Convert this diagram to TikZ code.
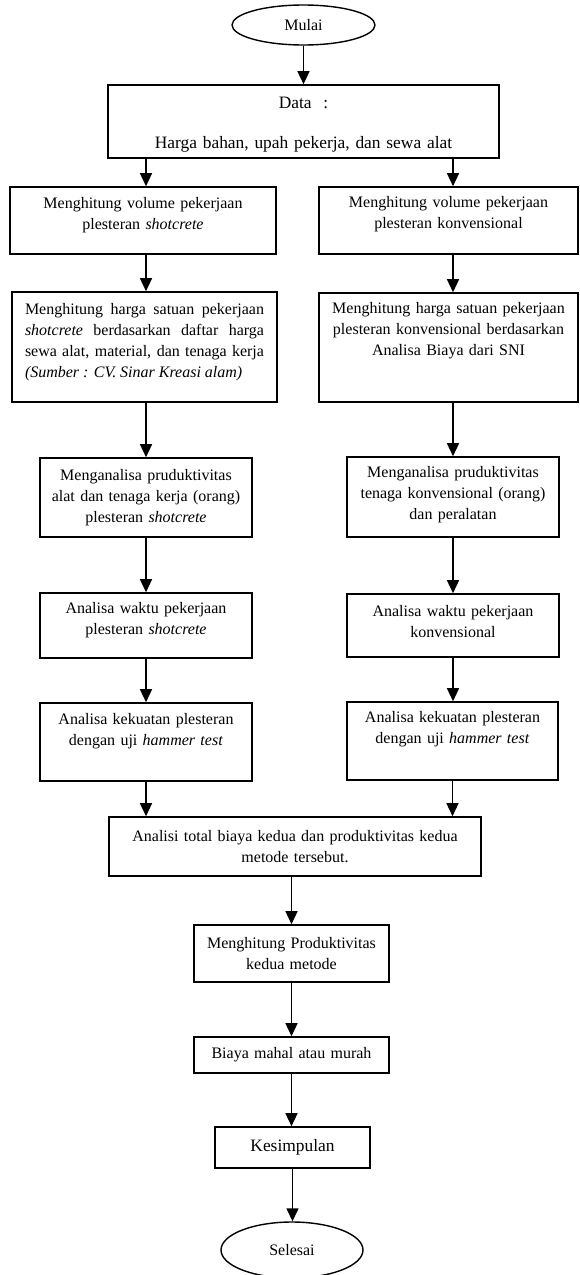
\documentclass[tikz,border=0pt]{standalone}
\usepackage{fontspec}
\setmainfont{Liberation Serif}
\usetikzlibrary{shapes.geometric, arrows.meta, positioning}

\begin{document}
\begin{tikzpicture}[x=1pt, y=-1pt, >={Triangle[width=12pt,length=13pt]}]
    \tikzstyle{terminal} = [ellipse, draw=black, line width=1.4pt, inner sep=0pt, font=\fontsize{16}{21}\selectfont]
    \tikzstyle{proses} = [rectangle, draw=black, line width=1.6pt, align=center, inner sep=2pt, font=\fontsize{16}{21}\selectfont]
    \tikzstyle{besar} = [font=\fontsize{17.4}{22}\selectfont]
    \tikzstyle{alur} = [->, line width=1.4pt]

    \useasboundingbox (0,0) rectangle (579,1275);

    % Awal dan data masukan
    \node [terminal, minimum width=143pt, minimum height=40pt] (mulai) at (303.5,25) {Mulai};
    \node [proses, besar, below of=mulai, node distance=96.5pt, minimum width=391pt, minimum height=73pt, text width=370pt, text height=17pt] (data) {Data \ :\\[18pt]Harga bahan, upah pekerja, dan sewa alat};

    % Kolom kiri: shotcrete
    \node [proses, below of=data, node distance=99pt, xshift=-160.5pt, minimum width=266pt, minimum height=67pt, text width=250pt, text height=11pt, text depth=34.6pt] (vol1) {Menghitung volume pekerjaan\\plesteran \textit{shotcrete}};
    \node [proses, below of=vol1, node distance=126.5pt, xshift=1.5pt, minimum width=265pt, minimum height=110pt, text width=239pt, align=justify, text height=11pt, text depth=76.6pt] (harga1) {Menghitung harga satuan pekerjaan\linebreak \textit{shotcrete} berdasarkan daftar harga\linebreak sewa alat, material, dan tenaga kerja\linebreak \textit{(Sumber : CV. Sinar Kreasi alam)}};
    \node [proses, below of=harga1, node distance=150.5pt, xshift=1.5pt, minimum width=212pt, minimum height=79pt, text width=205pt] (prod1) {Menganalisa pruduktivitas\\alat dan tenaga kerja (orang)\\plesteran \textit{shotcrete}};
    \node [proses, below of=prod1, node distance=128pt, minimum width=212pt, minimum height=65pt, text width=205pt, text height=11pt, text depth=34.6pt] (waktu1) {Analisa waktu pekerjaan\\plesteran \textit{shotcrete}};
    \node [proses, below of=waktu1, node distance=116.5pt, minimum width=212pt, minimum height=78pt, text width=205pt, text height=11pt, text depth=46.6pt] (uji1) {Analisa kekuatan plesteran\\dengan uji \textit{hammer test}};

    % Kolom kanan: konvensional
    \node [proses, below of=data, node distance=99pt, xshift=145pt, minimum width=259pt, minimum height=67pt, text width=245pt, text height=11pt, text depth=36.6pt] (vol2) {Menghitung volume pekerjaan\\plesteran konvensional};
    \node [proses, below of=vol2, node distance=127pt, minimum width=259pt, minimum height=109pt, text width=245pt, text height=11pt, text depth=79.6pt] (harga2) {Menghitung harga satuan pekerjaan\\plesteran konvensional berdasarkan\\Analisa Biaya dari SNI};
    \node [proses, below of=harga2, node distance=149.5pt, xshift=4.5pt, minimum width=212pt, minimum height=80pt, text width=205pt, text height=11pt, text depth=49.6pt] (prod2) {Menganalisa pruduktivitas\\tenaga konvensional (orang)\\dan peralatan};
    \node [proses, below of=prod2, node distance=128.5pt, minimum width=212pt, minimum height=63pt, text width=205pt, text height=11pt, text depth=29pt] (waktu2) {Analisa waktu pekerjaan\\konvensional};
    \node [proses, below of=waktu2, node distance=115.5pt, xshift=-0.5pt, minimum width=211pt, minimum height=78pt, text width=205pt, text height=11pt, text depth=48.6pt] (uji2) {Analisa kekuatan plesteran\\dengan uji \textit{hammer test}};

    % Gabungan dan akhir
    \node [proses, below of=uji1, node distance=104.5pt, xshift=149pt, minimum width=372pt, minimum height=59pt, text width=360pt] (total) {Analisi total biaya kedua dan produktivitas kedua\\metode tersebut.};
    \node [proses, below of=total, node distance=107pt, xshift=-3.5pt, minimum width=195pt, minimum height=57pt, text width=190pt] (produktif) {Menghitung Produktivitas\\kedua metode};
    \node [proses, below of=produktif, node distance=101.5pt, minimum width=195pt, minimum height=36pt, text width=190pt] (biaya) {Biaya mahal atau murah};
    \node [proses, besar, below of=biaya, node distance=92.5pt, xshift=1pt, minimum width=155pt, minimum height=41pt, text width=150pt] (simpul) {Kesimpulan};
    \node [terminal, below of=simpul, node distance=102.5pt, xshift=-0.5pt, minimum width=142pt, minimum height=56pt] (selesai) {Selesai};

    % Panah
    \draw [alur] (mulai.south) -- (data.north);
    \draw [alur] (data.south -| prod1.north) -- (vol1.north -| prod1.north);
    \draw [alur] (data.south -| prod2.north) -- (vol2.north -| prod2.north);
    \draw [alur] (vol1.south -| prod1.north) -- (harga1.north -| prod1.north);
    \draw [alur] (harga1.south -| prod1.north) -- (prod1.north);
    \draw [alur] (prod1.south) -- (waktu1.north);
    \draw [alur] (waktu1.south) -- (uji1.north);
    \draw [alur] (vol2.south -| prod2.north) -- (harga2.north -| prod2.north);
    \draw [alur] (harga2.south -| prod2.north) -- (prod2.north);
    \draw [alur] (prod2.south) -- (waktu2.north);
    \draw [alur] (waktu2.south) -- (uji2.north -| waktu2.south);
    \draw [alur] (uji1.south) -- (uji1.south |- total.north);
    \draw [alur] (uji2.south) -- (uji2.south |- total.north);
    \draw [alur] (produktif.north |- total.south) -- (produktif.north);
    \draw [alur] (produktif.south) -- (biaya.north);
    \draw [alur] (biaya.south) -- (simpul.north -| biaya.south);
    \draw [alur] (simpul.south) -- (selesai.north -| simpul.south);
\end{tikzpicture}
\end{document}
